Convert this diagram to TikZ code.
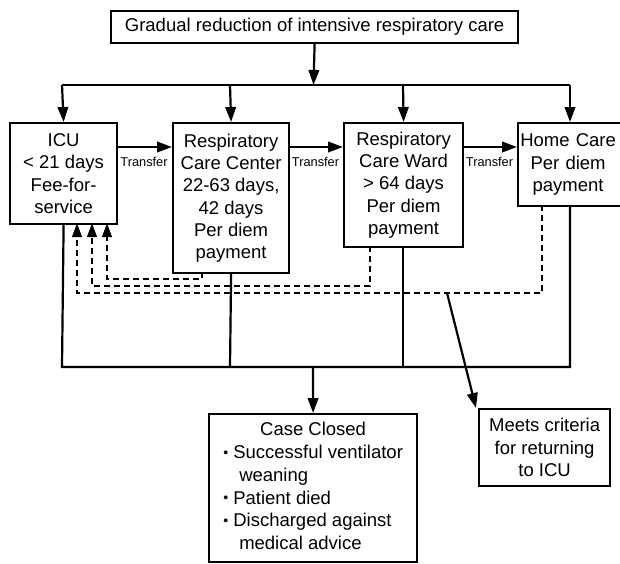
\documentclass[tikz,border=0pt]{standalone}
\usepackage{fontspec}
\setmainfont{Liberation Sans}
\usetikzlibrary{arrows.meta}
\newcommand{\smbul}{{\fontsize{14}{14}\selectfont\raisebox{1.2pt}{\textbullet}}}
\begin{document}
\begin{tikzpicture}[x=1pt,y=-1pt,
  box/.style={draw,line width=2.2pt,rectangle,inner sep=0pt,anchor=north west,align=center,
    font={\fontsize{18.5}{22.3}\selectfont}},
  conn/.style={line width=2.2pt},
  arr/.style={line width=2.2pt,-{Triangle[length=15pt,width=10.5pt]}},
  darr/.style={line width=2.2pt,dash pattern=on 6pt off 4pt,-{Triangle[length=14pt,width=9.5pt]}},
  lbl/.style={font={\fontsize{12.8}{14}\selectfont},inner sep=0pt}]
\useasboundingbox (0,0) rectangle (620,563);
\fill[white] (0,0) rectangle (620,563);
% boxes
\node[box,minimum width=407pt,minimum height=32pt] (top) at (110,10) {Gradual reduction of intensive respiratory care};
\node[box,minimum width=107pt,minimum height=101pt] (icu) at (9,122) {ICU\\< 21 days\\Fee-for-\\service};
\node[box,minimum width=116pt,minimum height=150pt] (rcc) at (172,122) {Respiratory\\Care Center\\22-63 days,\\42 days\\Per diem\\payment};
\node[box,minimum width=119pt,minimum height=124pt] (rcw) at (343,122) {Respiratory\\Care Ward\\> 64 days\\Per diem\\payment};
\node[box,minimum width=106pt,minimum height=83pt,text width=106pt] (home) at (517,122) {\hspace*{-6pt}Home Care\\\hspace*{-6pt}Per diem\\\hspace*{-6pt}payment};
\node[box,minimum width=208pt,minimum height=148pt] (closed) at (208,413) {\begin{tabular}{@{}l@{}}\multicolumn{1}{c}{Case Closed}\\[0.6pt]
\smbul\ Successful ventilator\\[0.6pt]
\hspace*{16pt}weaning\\[0.6pt]
\smbul\ Patient died\\[0.6pt]
\smbul\ Discharged against\\[0.6pt]
\hspace*{16pt}medical advice\end{tabular}};
\node[box,minimum width=131pt,minimum height=77pt] (meets) at (478,408) {Meets criteria\\for returning\\to ICU};
% coordinates
\coordinate (tl) at (62,85);
\coordinate (tm) at (313.5,85);
\coordinate (tr) at (570,85);
\coordinate (bl) at (62,367);
\coordinate (bm) at (313,367);
\coordinate (br) at (570,367);
% top distribution
\draw[arr] (top.south) -- (tm);
\draw[conn] (tl) -- (tr);
\draw[arr] (tl) -- (icu.north);
\draw[arr] (230,85) -- (rcc.north);
\draw[arr] (403,85) -- (rcw.north);
\draw[arr] (tr) -- (570,122);
% transfers
\draw[arr] (icu.east |- 0,147) -- (rcc.west |- 0,147);
\draw[arr] (rcc.east |- 0,147) -- (rcw.west |- 0,147);
\draw[arr] (rcw.east |- 0,147) -- (home.west |- 0,147);
\node[lbl] (t1) at (144,162) {Transfer};
\node[lbl] (t2) at (315.5,162) {Transfer};
\node[lbl] (t3) at (489.5,162) {Transfer};
% bottom collection
\draw[conn] (icu.south) -- (bl) -- (br) -- (570,205);
\draw[conn] (rcc.south) -- (230,367);
\draw[conn] (403,246) -- (403,367);
\draw[arr] (bm) -- (closed.north);
% dashed returns
\draw[darr] (202,272) -- (202,279) -- (107,279) -- (107,223);
\draw[darr] (370,246) -- (370,286) -- (92,286) -- (92,223);
\draw[darr] (542,205) -- (542,293) -- (77,293) -- (77,223);
\coordinate (split) at (447,293);
\draw[arr] (split) -- (476,408);
\end{tikzpicture}
\end{document}
